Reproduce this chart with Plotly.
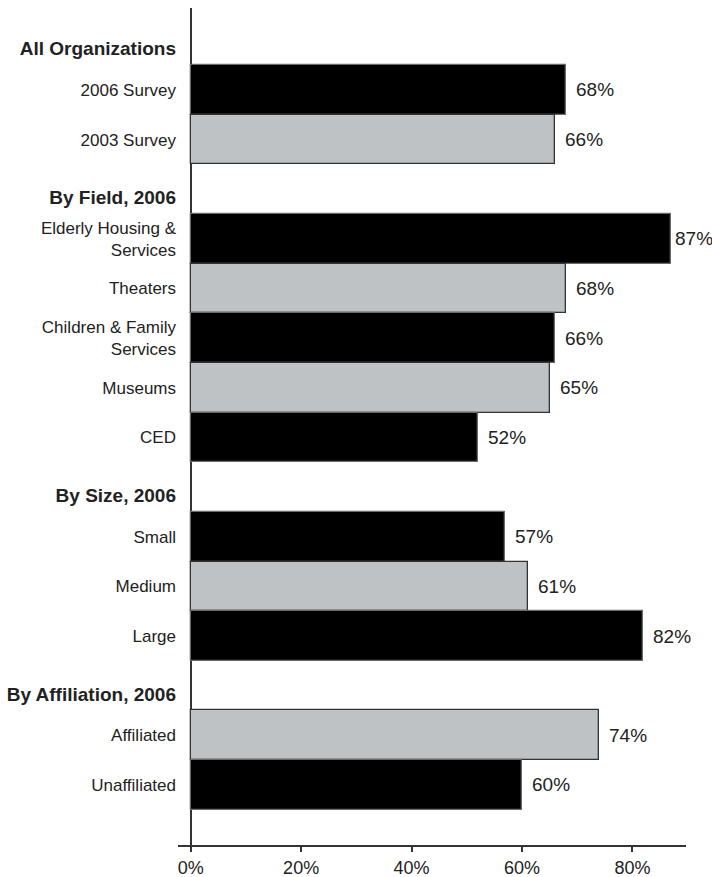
import plotly.graph_objects as go

# ---- data ----
group_titles = ["All Organizations", "By Field, 2006", "By Size, 2006", "By Affiliation, 2006"]
group_sizes = [2, 5, 3, 2]
categories = ["2006 Survey", "2003 Survey",
              "Elderly Housing &<br>Services", "Theaters", "Children & Family<br>Services", "Museums", "CED",
              "Small", "Medium", "Large",
              "Affiliated", "Unaffiliated"]
values = [68, 66, 87, 68, 66, 65, 52, 57, 61, 82, 74, 60]
shade = ["dark", "light", "dark", "light", "dark", "light", "dark",
         "dark", "light", "dark", "light", "dark"]
x_ticks = [0, 20, 40, 60, 80]
x_ticktext = ["0%", "20%", "40%", "60%", "80%"]

# ---- layout helpers ----
group_gap = 1.0          # empty slot before each group (holds the heading)
header_offset = 0.82
fill = {"dark": "#000000", "light": "#BEC2C5"}
edge = {"dark": "#6a6a6a", "light": "#333333"}
FONT = "Liberation Sans, Arial, sans-serif"

pos, header_pos = [], []
y = -group_gap
for g, n in enumerate(group_sizes):
    y += group_gap
    header_pos.append(y - header_offset)
    for k in range(n):
        pos.append(y)
        y += 1

fig = go.Figure()
fig.add_trace(go.Bar(
    x=values, y=pos, orientation="h", width=1.0,
    marker=dict(color=[fill[s] for s in shade],
                line=dict(color=[edge[s] for s in shade], width=1.3)),
    hoverinfo="skip", showlegend=False,
))

for v, p in zip(values, pos):
    fig.add_annotation(x=v, y=p, text=f"{v}%", showarrow=False, xanchor="left",
                       yanchor="middle", xshift=2 if v > 85 else 8, yshift=0,
                       font=dict(family=FONT, size=19, color="#222222"))

tickvals = header_pos + pos
ticktext = [f'<span style="font-size:19px"><b>{t}</b></span>' for t in group_titles] + categories

fig.update_yaxes(range=[15.21, -1.65], tickvals=tickvals, ticktext=ticktext,
                 showgrid=False, zeroline=False, showline=False, ticks="",
                 automargin=False, ticklabelstandoff=1,
                 tickfont=dict(family=FONT, size=17, color="#222222"))
fig.update_xaxes(range=[-2.3, 89.7], tickvals=x_ticks, ticktext=x_ticktext,
                 showgrid=False, zeroline=True, zerolinecolor="#333333", zerolinewidth=2,
                 showline=True, linecolor="#333333", linewidth=2,
                 ticks="outside", ticklen=5, tickwidth=1.5, tickcolor="#333333",
                 automargin=False,
                 tickfont=dict(family=FONT, size=18, color="#222222"))

fig.update_layout(width=712, height=877, margin=dict(l=178, r=26, t=8, b=32),
                  plot_bgcolor="white", paper_bgcolor="white", bargap=0,
                  font=dict(family=FONT))

fig.write_html("out.html")
